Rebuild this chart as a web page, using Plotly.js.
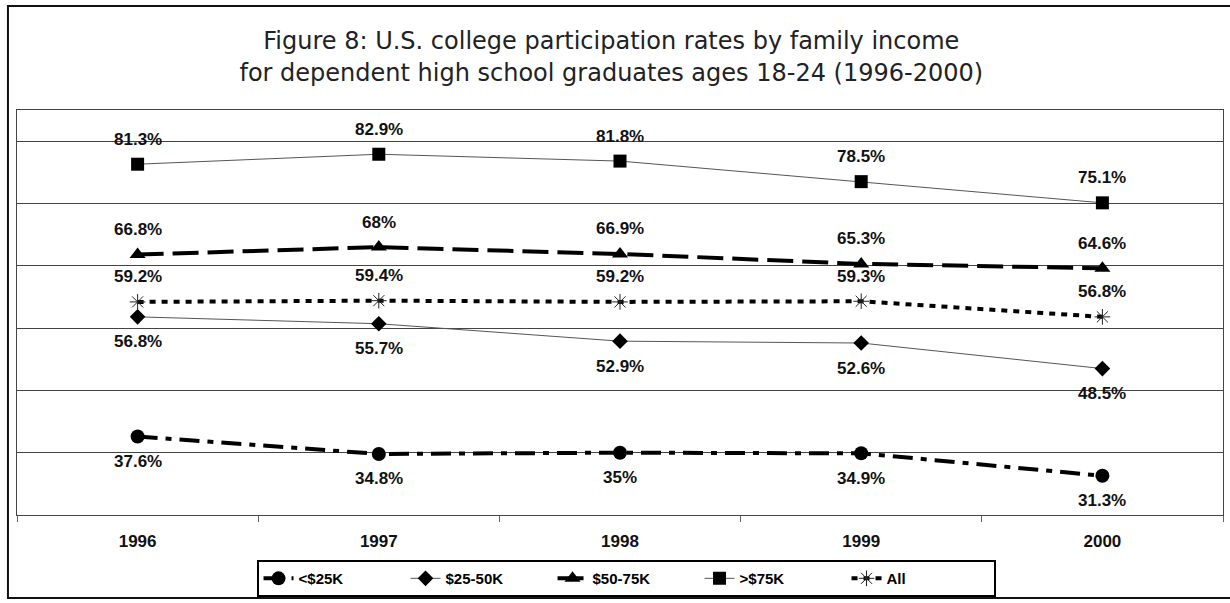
<!DOCTYPE html>
<html>
<head>
<meta charset="utf-8">
<script src="https://cdn.plot.ly/plotly-3.0.1.min.js"></script>
<style>html,body{margin:0;padding:0;background:#fff;}#chart{width:1230px;height:603px;}</style>
</head>
<body>
<div id="chart"></div>
<script>
const years = ['1996', '1997', '1998', '1999', '2000'];
const seriesNames = ['<$25K', '$25-50K', '$50-75K', '>$75K', 'All'];
const under25 = [37.6, 34.8, 35, 34.9, 31.3];
const from25to50 = [56.8, 55.7, 52.9, 52.6, 48.5];
const from50to75 = [66.8, 68, 66.9, 65.3, 64.6];
const over75 = [81.3, 82.9, 81.8, 78.5, 75.1];
const allIncomes = [59.2, 59.4, 59.2, 59.3, 56.8];
const titleText = 'Figure 8: U.S. college participation rates by family income<br>for dependent high school graduates ages 18-24 (1996-2000)';

const FONT = 'Liberation Sans, Arial, Helvetica, sans-serif';
const TITLE_FONT = 'DejaVu Sans, Liberation Sans, Arial, sans-serif';

const seriesValues = [under25, from25to50, from50to75, over75, allIncomes];
const styles = [
  {line: {color: '#000', width: 4, dash: '20px,8px,6px,8px'}, marker: {symbol: 'circle', size: 14, color: '#000'}, labelShift: -1},
  {line: {color: '#555', width: 1}, marker: {symbol: 'diamond', size: 12, color: '#000'}, labelShift: -1},
  {line: {color: '#000', width: 4, dash: '26px,9px'}, marker: {symbol: 'triangle-up', size: 14, color: '#000'}, labelShift: 1},
  {line: {color: '#555', width: 1}, marker: {symbol: 'square', size: 13, color: '#000'}, labelShift: 1},
  {line: {color: '#000', width: 4, dash: '6px,6px'}, marker: {symbol: 'asterisk-open', size: 13, color: '#222', line: {width: 1, color: '#222'}}, labelShift: 1}
];

const traces = seriesValues.map((vals, i) => ({
  type: 'scatter',
  mode: 'lines+markers',
  name: seriesNames[i],
  x: years,
  y: vals,
  line: styles[i].line,
  marker: styles[i].marker,
  hoverinfo: 'skip'
}));

// data labels: x given as category index (numeric-looking category names are ambiguous)
const annotations = [];
seriesValues.forEach((vals, i) => {
  vals.forEach((v, j) => {
    annotations.push({
      x: years.indexOf(years[j]), y: v, xref: 'x', yref: 'y',
      text: v + '%', showarrow: false,
      yshift: 25 * styles[i].labelShift,
      font: {family: FONT, size: 17, color: '#111', weight: 'bold'}
    });
  });
});

const layout = {
  width: 1230, height: 603,
  margin: {l: 17, r: 7, t: 110, b: 88, autoexpand: false},
  paper_bgcolor: '#fff', plot_bgcolor: '#fff',
  font: {family: FONT, color: '#000'},
  title: {
    text: titleText,
    font: {family: TITLE_FONT, size: 24, color: '#222'},
    x: 0.497, xref: 'container', xanchor: 'center',
    y: 0.918, yref: 'container', yanchor: 'top'
  },
  xaxis: {
    type: 'category',
    range: [-0.5, 4.5],
    showgrid: false,
    showline: true, linecolor: '#444', linewidth: 1, mirror: true,
    ticks: 'outside', tickson: 'boundaries', ticklen: 6, tickcolor: '#666',
    ticklabelstandoff: 11,
    tickfont: {family: FONT, size: 17, color: '#111', weight: 'bold'},
    zeroline: false, fixedrange: true, automargin: false
  },
  yaxis: {
    range: [25, 90],
    tick0: 5, dtick: 10,
    showticklabels: false, ticks: '',
    showgrid: true, gridcolor: '#444', gridwidth: 1,
    showline: true, linecolor: '#444', linewidth: 1, mirror: true,
    zeroline: false, fixedrange: true, automargin: false
  },
  showlegend: true,
  legend: {
    orientation: 'h',
    x: 0.505, xanchor: 'center', xref: 'paper',
    y: -0.157, yanchor: 'middle', yref: 'paper',
    bordercolor: '#000', borderwidth: 2, bgcolor: '#fff',
    entrywidth: 102, entrywidthmode: 'pixels',
    font: {family: FONT, size: 15, color: '#000', weight: 'bold'},
    traceorder: 'normal'
  },
  annotations: annotations,
  shapes: [{
    type: 'rect', xref: 'paper', yref: 'paper',
    x0: -0.0075, x1: 1.02, y0: -0.205, y1: 1.257,
    line: {color: '#111', width: 2}, fillcolor: 'rgba(0,0,0,0)', layer: 'above'
  }]
};

Plotly.newPlot('chart', traces, layout, {displayModeBar: false, staticPlot: true});
</script>
</body>
</html>
